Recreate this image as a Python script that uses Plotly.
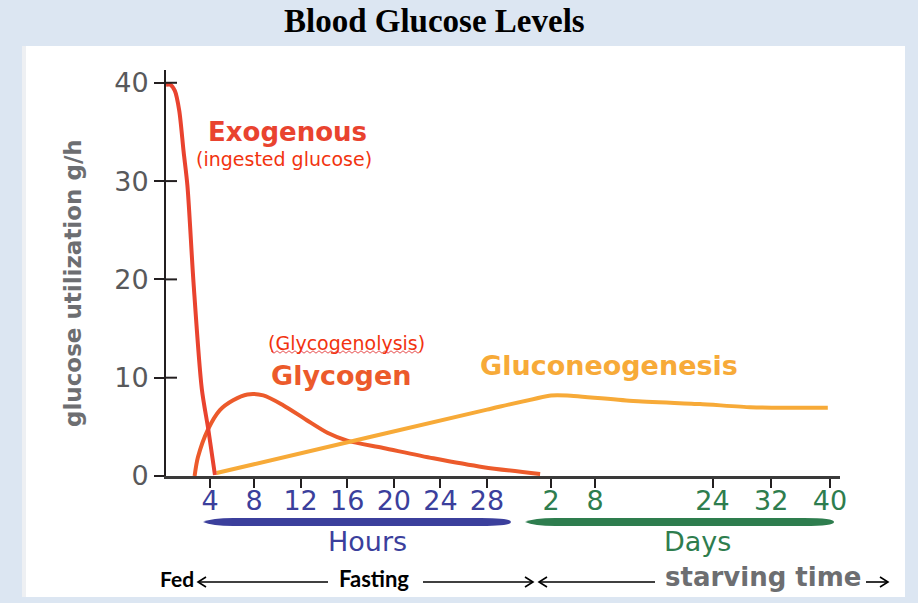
import numpy as np
import plotly.graph_objects as go

# ---------------- data ----------------
HOUR_TICKS = [4, 8, 12, 16, 20, 24, 28]
DAY_TICKS = [2, 8, 24, 32, 40]
Y_TICKS = [0, 10, 20, 30, 40]

# Exogenous (ingested glucose) - time in hours
EXO_T_H = [0, 0.4, 0.8, 1.2, 1.6, 1.95, 2.5, 3.25, 3.85, 4.45]
EXO_V = [39.8, 39.8, 39.2, 37.2, 33.0, 29.5, 19.7, 8.9, 4.7, 0.1]

# Glycogen (glycogenolysis) - time in hours
GLY_T_H = [2.6, 2.9, 3.8, 4.9, 6.1, 7.4, 8.8, 10.5, 12.5, 14.3, 16.0, 19.1, 23.4, 27.7, 44.6]
GLY_V = [0, 1.9, 4.7, 6.7, 7.7, 8.3, 8.2, 7.2, 5.7, 4.4, 3.6, 2.85, 1.8, 0.9, 0.2]

# Gluconeogenesis - first part in hours, second part in days
GLUCO_T_H = [4.6, 8, 28, 48]
GLUCO_V_H = [0.3, 1.2, 6.75, 8.2]
GLUCO_T_D = [4.2, 13.2, 22.3, 29.1, 33.6, 39.7]
GLUCO_V_D = [8.2, 7.63, 7.32, 7.0, 6.93, 6.95]

# ---------------- time scale (hours -> axis position) ----------------
BREAK_H = [0, 8, 28, 48, 960]
BREAK_POS = [0, 88, 321, 385, 664]


def tpos(hours):
    return np.interp(np.asarray(hours, dtype=float), BREAK_H, BREAK_POS)


# ---------------- layout geometry (pixels) ----------------
W, H = 918, 603
PL, PR, PT, PB = 166, 840, 70, 476
YMAX = 41.3


def fx(px):
    return (px - PL) / (PR - PL)


def fy(py):
    return (PB - py) / (PB - PT)


RED = "#e9432f"
RED_TXT = "#f2330f"
GLY_COL = "#ec5a2b"
GLU_COL = "#f7aa38"
BLUE = "#3b3f9c"
GREEN = "#2e7d4e"
GRAY = "#6d6e71"

fig = go.Figure()

fig.add_trace(go.Scatter(
    x=tpos(GLY_T_H), y=GLY_V, mode="lines",
    line=dict(color=GLY_COL, width=4, shape="spline", smoothing=0.8),
    hoverinfo="skip", showlegend=False))

gl_t = list(GLUCO_T_H) + [d * 24 for d in GLUCO_T_D]
gl_v = list(GLUCO_V_H) + list(GLUCO_V_D)
fig.add_trace(go.Scatter(
    x=tpos(gl_t), y=gl_v, mode="lines",
    line=dict(color=GLU_COL, width=4, shape="spline", smoothing=0.5),
    hoverinfo="skip", showlegend=False))

fig.add_trace(go.Scatter(
    x=tpos(EXO_T_H), y=EXO_V, mode="lines",
    line=dict(color=RED, width=4, shape="spline", smoothing=0.8),
    hoverinfo="skip", showlegend=False))

tickvals = list(tpos(HOUR_TICKS)) + list(tpos([d * 24 for d in DAY_TICKS]))
ticktext = [f'<span style="color:{BLUE}">{h}</span>' for h in HOUR_TICKS] + \
           [f'<span style="color:{GREEN}">{d}</span>' for d in DAY_TICKS]

shapes = []
# white panel
shapes.append(dict(type="rect", xref="paper", yref="paper",
                   x0=fx(22), x1=fx(905), y0=fy(597), y1=fy(46),
                   fillcolor="white", line=dict(width=0), layer="below"))
shapes.append(dict(type="rect", xref="paper", yref="paper",
                   x0=fx(22), x1=fx(26), y0=fy(597), y1=fy(46),
                   fillcolor="#eef0f3", line=dict(width=0), layer="below"))

# inner part of y ticks (cross ticks)
for v in Y_TICKS[1:]:
    shapes.append(dict(type="line", xref="paper", yref="y",
                       x0=fx(166), x1=fx(177), y0=v, y1=v,
                       line=dict(color="#231f20", width=2)))


def brush(x0, x1, yc, half, color):
    t = 30
    P = lambda a, b: f"{fx(a):.5f},{fy(b):.5f}"
    path = (f"M {P(x0, yc)} Q {P(x0 + t * 0.3, yc - half)} {P(x0 + t, yc - half)} "
            f"L {P(x1 - t, yc - half)} Q {P(x1, yc - half)} {P(x1, yc)} "
            f"Q {P(x1, yc + half)} {P(x1 - t, yc + half)} "
            f"L {P(x0 + t, yc + half)} Q {P(x0 + t * 0.3, yc + half)} {P(x0, yc)} Z")
    return dict(type="path", xref="paper", yref="paper", path=path,
                fillcolor=color, line=dict(width=0))


shapes.append(brush(203, 511, 522, 4, BLUE))
shapes.append(brush(525, 834, 522, 4, GREEN))


def hline(x0, x1, y):
    return dict(type="line", xref="paper", yref="paper",
                x0=fx(x0), x1=fx(x1), y0=fy(y), y1=fy(y),
                line=dict(color="black", width=1.6))


def chevron(tx, ty, direction):
    d = 8 if direction == "left" else -8
    path = f"M {fx(tx + d):.5f},{fy(ty - 5):.5f} L {fx(tx):.5f},{fy(ty):.5f} L {fx(tx + d):.5f},{fy(ty + 5):.5f}"
    return dict(type="path", xref="paper", yref="paper", path=path,
                line=dict(color="black", width=1.6))


AY = 582
shapes += [hline(198, 328, AY), chevron(198, AY, "left"),
           hline(423, 533, AY), chevron(533, AY, "right"),
           hline(539, 655, AY), chevron(539, AY, "left"),
           hline(866, 888, AY), chevron(888, AY, "right")]

# wavy spell-check underline under Glycogenolysis
wx = np.arange(271, 422, 3)
wy = [352 + (1.2 if i % 2 else -1.2) for i in range(len(wx))]
shapes.append(dict(type="path", xref="paper", yref="paper",
                   path="M " + " L ".join(f"{fx(a):.5f},{fy(b):.5f}" for a, b in zip(wx, wy)),
                   line=dict(color="#e02020", width=0.8)))

SANS = "DejaVu Sans"


def ann(text, px, py, size, color, bold=False, family=SANS, angle=0):
    t = f"<b>{text}</b>" if bold else text
    return dict(text=t, x=fx(px), y=fy(py), xref="paper", yref="paper",
                showarrow=False, xanchor="center", yanchor="middle",
                textangle=angle, font=dict(family=family, size=size, color=color))


annotations = [
    ann("Blood Glucose Levels", 434, 21, 33, "black", True, "Liberation Serif"),
    ann("glucose utilization g/h", 73, 283, 23, GRAY, True, angle=-90),
    ann("Exogenous", 287, 132, 26, RED, True),
    ann("(ingested glucose)", 284, 159, 19, RED_TXT),
    ann("(Glycogenolysis)", 346, 343, 19, RED_TXT),
    ann("Glycogen", 341, 375, 27, GLY_COL, True),
    ann("Gluconeogenesis", 609, 365, 27, GLU_COL, True),
    ann("Hours", 367, 541, 27, BLUE),
    ann("Days", 697, 541, 27, GREEN),
    ann("Fed", 177, 578, 21, "black", True, "Lato"),
    ann("Fasting", 374, 578, 22, "black", True, "Lato"),
    ann("starving time", 763, 577, 26, GRAY, True),
]

fig.update_layout(
    width=W, height=H,
    margin=dict(l=PL, r=W - PR, t=PT, b=H - PB, pad=0),
    paper_bgcolor="#dce6f2",
    plot_bgcolor="rgba(0,0,0,0)",
    showlegend=False,
    shapes=shapes,
    annotations=annotations,
    xaxis=dict(range=[0, PR - PL], showgrid=False, zeroline=False,
               showline=True, linecolor="#3a3a3a", linewidth=2.5,
               ticks="outside", ticklen=9, tickwidth=2, tickcolor="#231f20",
               tickvals=tickvals, ticktext=ticktext, ticklabelstandoff=-10,
               tickfont=dict(family=SANS, size=27), fixedrange=True),
    yaxis=dict(range=[0, YMAX], showgrid=False, zeroline=False,
               showline=True, linecolor="#231f20", linewidth=2,
               ticks="outside", ticklen=10, tickwidth=2, tickcolor="#231f20",
               tickvals=Y_TICKS, ticktext=[str(v) for v in Y_TICKS],
               tickfont=dict(family=SANS, size=27, color="#58595b"),
               fixedrange=True),
)

fig.write_html("out.html", config={"displayModeBar": False})
